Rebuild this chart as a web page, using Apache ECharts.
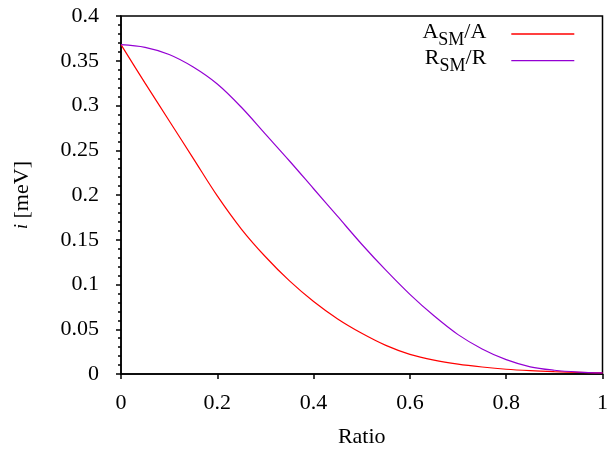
<!DOCTYPE html>
<html>
<head>
<meta charset="utf-8">
<script src="https://cdn.jsdelivr.net/npm/echarts@6/dist/echarts.min.js"></script>
<style>html,body{margin:0;padding:0;background:#fff}#c{width:609px;height:450px}</style>
</head>
<body>
<div id="c"></div>
<script>
// Data
const xTicks = [0, 0.2, 0.4, 0.6, 0.8, 1];
const yTicks = [0, 0.05, 0.1, 0.15, 0.2, 0.25, 0.3, 0.35, 0.4];
const seriesNames = ['A_SM/A', 'R_SM/R'];
const ratio = [0, 0.05, 0.1, 0.15, 0.2, 0.25, 0.3, 0.35, 0.4, 0.45, 0.5, 0.55, 0.6, 0.65, 0.7, 0.75, 0.8, 0.85, 0.9, 0.95, 1];
const aRatio = [0.368, 0.325, 0.283, 0.241, 0.199, 0.162, 0.131, 0.104, 0.081, 0.0615, 0.0455, 0.032, 0.022, 0.0155, 0.011, 0.0078, 0.0053, 0.0037, 0.0026, 0.0018, 0.0012];
const rRatio = [0.368, 0.365, 0.357, 0.343, 0.324, 0.298, 0.268, 0.238, 0.207, 0.176, 0.145, 0.116, 0.089, 0.065, 0.044, 0.028, 0.016, 0.008, 0.0042, 0.0022, 0.0012];

const FONT = 'Liberation Serif';
const zip = (xs, ys) => xs.map((x, i) => [x, ys[i]]);
const chart = echarts.init(document.getElementById('c'), null, {renderer: 'canvas'});
const legendRich = {
  n: {fontFamily: FONT, fontSize: 22, lineHeight: 26, verticalAlign: 'top', color: '#000'},
  s: {fontFamily: FONT, fontSize: 18, lineHeight: 26, padding: [10, 0, 0, 0], verticalAlign: 'top', color: '#000'},
  g: {width: 20, lineHeight: 26, verticalAlign: 'top'}
};
chart.setOption({
  animation: false,
  backgroundColor: '#fff',
  grid: {left: 121, right: 6.5, top: 16, bottom: 76, containLabel: false, outerBoundsMode: 'none',
    show: true, borderColor: '#000', borderWidth: 1.5, backgroundColor: 'transparent'},
  legend: {
    orient: 'vertical', right: 34.7, top: 21, padding: 0, align: 'right',
    itemWidth: 63, itemHeight: 1.4, itemGap: -1.4, icon: 'rect',
    data: seriesNames,
    formatter: function (name) {
      const p = name.split('_');
      const rest = p[1].split('/');
      return '{n|' + p[0] + '}{s|' + rest[0] + '}{n|/' + rest[1] + '}{g|}';
    },
    textStyle: {fontFamily: FONT, fontSize: 22, rich: legendRich}
  },
  xAxis: {
    type: 'value', min: 0, max: 1, interval: 0.2,
    name: 'Ratio', nameLocation: 'middle', nameGap: 52,
    nameTextStyle: {fontFamily: FONT, fontSize: 22, color: '#000'},
    axisLine: {show: true, onZero: false, lineStyle: {color: '#000', width: 1.5}},
    axisTick: {show: true, inside: false, length: 5, lineStyle: {color: '#000', width: 1.5}},
    minorTick: {show: false},
    splitLine: {show: false},
    axisLabel: {fontFamily: FONT, fontSize: 22, color: '#000', margin: 18,
      formatter: v => { const t = xTicks.find(k => Math.abs(k - v) < 1e-9); return t === undefined ? '' : String(t); }}
  },
  yAxis: {
    type: 'value', min: 0, max: 0.4, interval: 0.05,
    name: '{i|i} [meV]', nameLocation: 'middle', nameGap: 88,
    nameTextStyle: {fontFamily: FONT, fontSize: 22, color: '#000',
      rich: {i: {fontFamily: FONT, fontSize: 18, fontStyle: 'italic', color: '#000'}}},
    axisLine: {show: true, onZero: false, lineStyle: {color: '#000', width: 1.5}},
    axisTick: {show: true, inside: false, length: 5, lineStyle: {color: '#000', width: 1.5}},
    minorTick: {show: true, splitNumber: 5, length: 3, lineStyle: {color: '#000', width: 1.5}},
    splitLine: {show: false},
    axisLabel: {fontFamily: FONT, fontSize: 22, color: '#000', margin: 22,
      formatter: v => { const t = yTicks.find(k => Math.abs(k - v) < 1e-9); return t === undefined ? '' : String(t); }}
  },
  series: [
    {name: seriesNames[0], type: 'line', data: zip(ratio, aRatio), symbol: 'none', smooth: 0.35,
      lineStyle: {color: '#ff0000', width: 1.2}, itemStyle: {color: '#ff0000'}},
    {name: seriesNames[1], type: 'line', data: zip(ratio, rRatio), symbol: 'none', smooth: 0.35,
      lineStyle: {color: '#9400d3', width: 1.2}, itemStyle: {color: '#9400d3'}}
  ]
});
</script>
</body>
</html>
